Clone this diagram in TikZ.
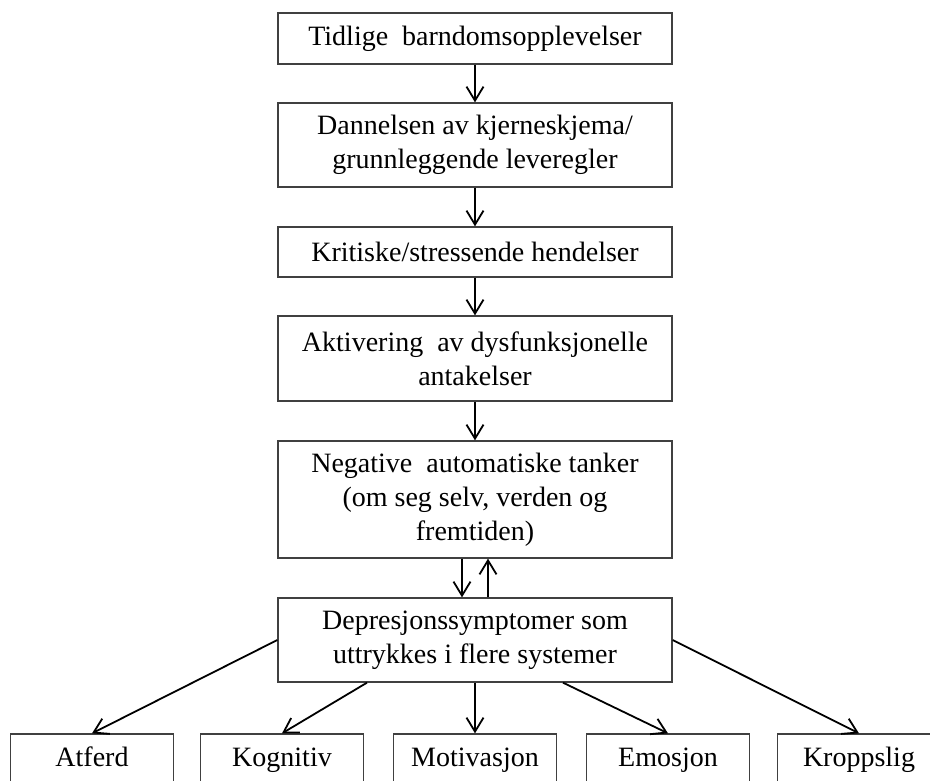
\documentclass[tikz,border=0pt]{standalone}
\usepackage{fontspec}
\setmainfont{Liberation Serif}
\usetikzlibrary{arrows.meta}
\begin{document}
\begin{tikzpicture}[x=1pt, y=-1pt,
		box/.style={draw=black!75, line width=1.3pt, minimum width=394pt, inner sep=0pt, align=center, font=\fontsize{28}{34}\selectfont},
		smallbox/.style={box, minimum width=163pt, minimum height=50pt, text height=20pt, text depth=5pt},
		pil/.style={line width=1.8pt, -{Straight Barb[length=14pt, width=17pt]}}
	]
		\useasboundingbox (0,0) rectangle (930,780);
		\clip (0,0) rectangle (930,780);
		\node[box, minimum height=51pt] (barndom) at (475,38.5) {Tidlige\ \ barndomsopplevelser};
		\node[box, minimum height=84pt] (skjema) at (475,145) {Dannelsen av kjerneskjema/\\grunnleggende leveregler};
		\node[box, minimum height=50pt] (hendelser) at (475,252) {Kritiske/stressende hendelser};
		\node[box, minimum height=85pt] (antakelser) at (475,358.5) {Aktivering\ \ av dysfunksjonelle\\antakelser};
		\node[box, minimum height=117pt] (tanker) at (475,499.5) {Negative\ \ automatiske tanker\\(om seg selv, verden og\\fremtiden)};
		\node[box, minimum height=84pt] (symptomer) at (475,640) {Depresjonssymptomer som\\uttrykkes i flere systemer};
		\foreach \name/\txt/\x in {
			atferd/Atferd/92,
			kognitiv/Kognitiv/282,
			motivasjon/Motivasjon/475,
			emosjon/Emosjon/668,
			kroppslig/Kroppslig/859
		}{
		\node[smallbox] (\name) at (\x,759) {\txt};
		}
		\draw[pil] (barndom) -- (skjema);
		\draw[pil] (skjema) -- (hendelser);
		\draw[pil] (hendelser) -- (antakelser);
		\draw[pil] (antakelser) -- (tanker);
		\draw[pil] ([xshift=-13pt]tanker.south) -- ([xshift=-13pt]symptomer.north);
		\draw[pil] ([xshift=13pt]symptomer.north) -- ([xshift=13pt]tanker.south);
		\draw[pil] (symptomer.west) -- (atferd.north);
		\draw[pil] ([xshift=-108pt]symptomer.south) -- (kognitiv.north);
		\draw[pil] (symptomer.south) -- (motivasjon.north);
		\draw[pil] ([xshift=88pt]symptomer.south) -- (emosjon.north);
		\draw[pil] (symptomer.east) -- (kroppslig.north);
		\end{tikzpicture}
\end{document}
